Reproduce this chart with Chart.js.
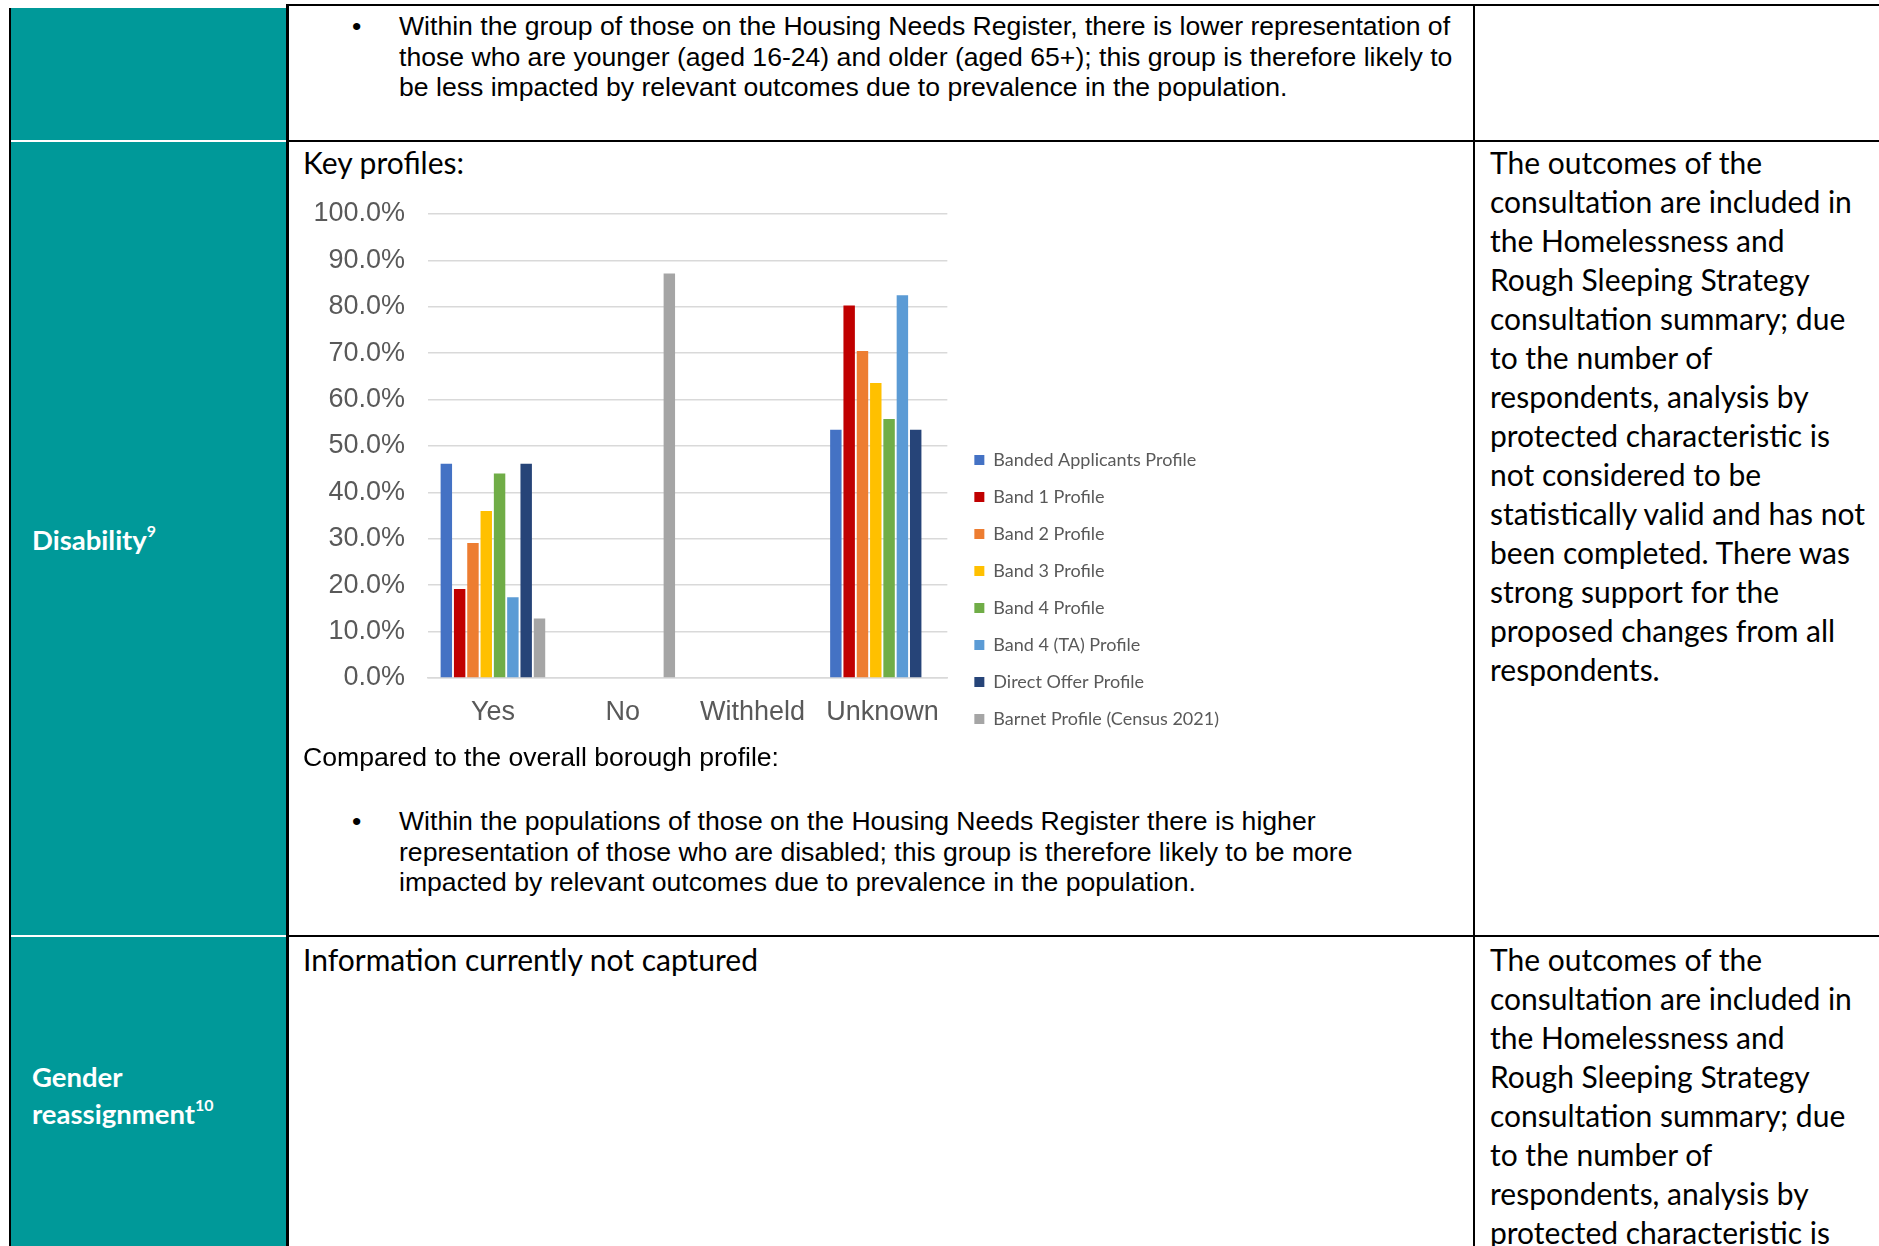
<!DOCTYPE html>
<html>
<head>
<meta charset="utf-8">
<title>Equality impact – Disability profile</title>
<script src="https://cdn.jsdelivr.net/npm/chart.js@4.4.1/dist/chart.umd.min.js"></script>
<style>
  html, body { margin: 0; padding: 0; background: #fff; }
  body { width: 1879px; height: 1246px; overflow: hidden; position: relative; }
  .teal { position: absolute; background: #009999; }
  .rule { position: absolute; background: #000; }
  .txt { position: absolute; white-space: nowrap; color: #000; }
  .arial { font-family: "Liberation Sans", Arial, sans-serif; font-size: 26.6px; line-height: 30.5px; }
  .cal { font-family: Lato, "Noto Sans", sans-serif; font-size: 30px; line-height: 39.06px; }
  .head { font-family: Lato, "Noto Sans", sans-serif; font-weight: 700; color: #fff; font-size: 27.5px; line-height: 37px; }
  .head sup { font-size: 58%; line-height: 0; position: relative; top: -2px; }
  #chartBox { position: absolute; left: 300px; top: 175px; line-height: 0; }
  #chartBox canvas { display: block; }
</style>
</head>
<body>

<!-- first column (teal headings) -->
<div class="teal" style="left:11px;top:8px;width:275px;height:132px;"></div>
<div class="teal" style="left:11px;top:142px;width:275px;height:793px;"></div>
<div class="teal" style="left:11px;top:937px;width:275px;height:320px;"></div>

<!-- table rules -->
<div class="rule" style="left:9px;top:8px;width:2px;height:1260px;"></div>
<div class="rule" style="left:286px;top:4px;width:3px;height:1260px;"></div>
<div class="rule" style="left:1473px;top:4px;width:2px;height:1260px;"></div>
<div class="rule" style="left:286px;top:4px;width:1593px;height:2px;"></div>
<div class="rule" style="left:286px;top:140px;width:1593px;height:2px;"></div>
<div class="rule" style="left:286px;top:935px;width:1593px;height:2px;"></div>

<!-- row 1 -->
<div class="txt arial" style="left:352px;top:11px;">•</div>
<div class="txt arial" style="left:399px;top:11px;">Within the group of those on the Housing Needs Register, there is lower representation of<br>those who are younger (aged 16-24) and older (aged 65+); this group is therefore likely to<br>be less impacted by relevant outcomes due to prevalence in the population.</div>

<!-- row 2 : disability -->
<div class="txt head" style="left:32px;top:520.5px;">Disability<sup>9</sup></div>
<div class="txt cal" style="left:303px;top:142.5px;">Key profiles:</div>

<div id="chartBox"><canvas id="chart"></canvas></div>

<div class="txt arial" style="left:303px;top:741.75px;">Compared to the overall borough profile:</div>
<div class="txt arial" style="left:352px;top:806px;">•</div>
<div class="txt arial" style="left:399px;top:806px;">Within the populations of those on the Housing Needs Register there is higher<br>representation of those who are disabled; this group is therefore likely to be more<br>impacted by relevant outcomes due to prevalence in the population.</div>

<div class="txt cal" style="left:1490px;top:142.5px;">The outcomes of the<br>consultation are included in<br>the Homelessness and<br>Rough Sleeping Strategy<br>consultation summary; due<br>to the number of<br>respondents, analysis by<br>protected characteristic is<br>not considered to be<br>statistically valid and has not<br>been completed. There was<br>strong support for the<br>proposed changes from all<br>respondents.</div>

<!-- row 3 : gender reassignment -->
<div class="txt head" style="left:32px;top:1057.5px;">Gender<br>reassignment<sup>10</sup></div>
<div class="txt cal" style="left:303px;top:939.5px;">Information currently not captured</div>
<div class="txt cal" style="left:1490px;top:939.5px;">The outcomes of the<br>consultation are included in<br>the Homelessness and<br>Rough Sleeping Strategy<br>consultation summary; due<br>to the number of<br>respondents, analysis by<br>protected characteristic is<br>not considered to be<br>statistically valid and has not<br>been completed. There was<br>strong support for the<br>proposed changes from all<br>respondents.</div>

<script>
// Disability status of each applicant group, as a share of that group (%)
const categories = ['Yes', 'No', 'Withheld', 'Unknown'];

const bandedApplicants = [46.2, 0, 0, 53.5];
const band1            = [19.2, 0, 0, 80.3];
const band2            = [29.1, 0, 0, 70.5];
const band3            = [36.0, 0, 0, 63.6];
const band4            = [44.1, 0, 0, 55.8];
const band4TA          = [17.4, 0, 0, 82.5];
const directOffer      = [46.2, 0, 0, 53.5];
const barnetCensus     = [12.8, 87.2, 0, 0];

const seriesNames = [
  'Banded Applicants Profile',
  'Band 1 Profile',
  'Band 2 Profile',
  'Band 3 Profile',
  'Band 4 Profile',
  'Band 4 (TA) Profile',
  'Direct Offer Profile',
  'Barnet Profile (Census 2021)'
];
const seriesValues = [bandedApplicants, band1, band2, band3, band4, band4TA, directOffer, barnetCensus];
const seriesColours = ['#4472C4', '#C00000', '#ED7D31', '#FFC000', '#70AD47', '#5B9BD5', '#264478', '#A5A5A5'];

// value axis: 0% to 100% in steps of 10
const yMin = 0, yMax = 100, yStep = 10;
const formatPercent = v => v.toFixed(1) + '%';

// ---- layout of the chart block ----
const axisFont = { family: '"Liberation Sans", Arial, sans-serif', size: 27, lineHeight: '32px' };
const legendFont = { family: 'Lato, "Noto Sans", sans-serif', size: 18 };
const legendPad = 19, legendBox = 10;
const plotLeft = 128, plotRight = 647, gapToLegend = 8;
const chartHeight = 572, xAxisHeight = 69;

const measure = document.createElement('canvas').getContext('2d');
measure.font = `normal ${legendFont.size}px ${legendFont.family}`;
const widestLabel = Math.max(...seriesNames.map(s => measure.measureText(s).width));
const legendWidth = 10 + legendPad + legendBox + legendFont.size / 2 + widestLabel;
const chartWidth = Math.ceil(plotRight + gapToLegend + legendWidth);

const canvas = document.getElementById('chart');
canvas.width = chartWidth;
canvas.height = chartHeight;
canvas.style.width = chartWidth + 'px';
canvas.style.height = chartHeight + 'px';

new Chart(canvas, {
  type: 'bar',
  data: {
    labels: categories,
    datasets: seriesNames.map((name, i) => ({
      label: name,
      data: seriesValues[i],
      backgroundColor: seriesColours[i],
      borderColor: seriesColours[i],
      borderWidth: 0,
      yAxisID: 'y',
      categoryPercentage: 0.82,
      barPercentage: 0.86
    }))
  },
  options: {
    responsive: false,
    animation: false,
    devicePixelRatio: 1,
    layout: { padding: 0 },
    plugins: {
      tooltip: { enabled: false },
      legend: {
        position: 'right',
        align: 'end',
        maxWidth: 1000,
        labels: {
          color: '#595959',
          font: legendFont,
          boxWidth: legendBox,
          boxHeight: legendBox,
          padding: legendPad
        }
      }
    },
    scales: {
      x: {
        grid: { display: false, drawTicks: false },
        border: { display: true, color: '#d9d9d9', width: 1.5 },
        ticks: { color: '#595959', font: axisFont, padding: 19, maxRotation: 0, autoSkip: false },
        afterFit: s => { s.height = xAxisHeight; }
      },
      y: {
        min: yMin,
        max: yMax,
        grid: { color: '#d9d9d9', lineWidth: 1.5, drawTicks: false },
        border: { display: false },
        ticks: { stepSize: yStep, color: '#595959', font: axisFont, padding: 23, callback: v => formatPercent(v) },
        afterFit: s => { s.width = plotLeft; }
      },
      gap: {
        type: 'linear',
        position: 'right',
        display: true,
        grid: { display: false, drawTicks: false },
        border: { display: false },
        ticks: { display: false },
        afterFit: s => { s.width = gapToLegend; }
      }
    }
  }
});
</script>
</body>
</html>
